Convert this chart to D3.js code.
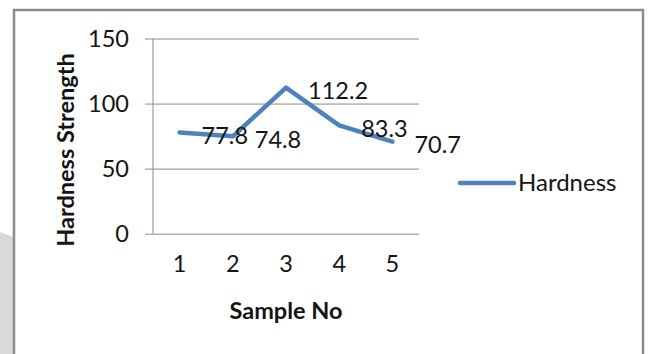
<!DOCTYPE html>
<html>
<head>
<meta charset="utf-8">
<script src="https://cdn.jsdelivr.net/npm/d3@7"></script>
<style>
  html, body { margin: 0; padding: 0; background: #fff; }
  svg { display: block; }
  text { font-family: Lato, "Noto Sans", sans-serif; fill: #141414; }
</style>
</head>
<body>
<svg id="chart" width="648" height="354"></svg>
<script>
// Hardness of each sample
const samples = ["1", "2", "3", "4", "5"];
const hardness = [77.8, 74.8, 112.2, 83.3, 70.7];
const yTicks = [0, 50, 100, 150];
const seriesName = "Hardness";
const xTitle = "Sample No";
const yTitle = "Hardness Strength";

const svg = d3.select("#chart");
const W = 648, H = 354;
const lineColor = "#4f81bd";
const gridColor = "#8a8a8a";

// page shadow at lower left and the chart frame
svg.append("path")
  .attr("d", "M0,232 L14,237 L14," + H + " L0," + H + " Z")
  .attr("fill", "#d9d9d9");
svg.append("rect")
  .attr("x", 14).attr("y", 10)
  .attr("width", 629).attr("height", H + 10)
  .attr("fill", "#fff")
  .attr("stroke", "#8c8c8c").attr("stroke-width", 2.5);

const plot = { left: 153, right: 419, top: 38.5, bottom: 233.7 };

const x = d3.scaleBand().domain(samples).range([plot.left, plot.right]);
const y = d3.scaleLinear().domain([0, 150]).range([plot.bottom, plot.top]);

// horizontal gridlines with outside tick stubs
const yAxis = d3.axisLeft(y).tickValues(yTicks)
  .tickSize(-(plot.right - plot.left)).tickPadding(18).tickFormat(d3.format("d"));
const gy = svg.append("g").attr("transform", `translate(${plot.left},0)`).call(yAxis);
gy.select(".domain").remove();
gy.selectAll(".tick line").attr("stroke", gridColor).attr("x1", -8);
gy.selectAll(".tick text")
  .attr("font-size", 23.5).attr("x", -24).attr("dy", "0.35em")
  .style("font-family", "Lato, sans-serif").attr("fill", "#141414");

// vertical axis line
svg.append("line")
  .attr("x1", plot.left).attr("x2", plot.left)
  .attr("y1", plot.top).attr("y2", plot.bottom)
  .attr("stroke", gridColor);

// category labels
const xAxis = d3.axisBottom(x).tickSize(0).tickPadding(22);
const gx = svg.append("g").attr("transform", `translate(0,${plot.bottom})`).call(xAxis);
gx.select(".domain").remove();
gx.selectAll(".tick text")
  .attr("font-size", 23.5)
  .style("font-family", "Lato, sans-serif").attr("fill", "#141414");

// series line
const cx = d => x(d) + x.bandwidth() / 2;
const line = d3.line()
  .x((d, i) => cx(samples[i]))
  .y(d => y(d));
svg.append("path")
  .datum(hardness)
  .attr("d", line)
  .attr("fill", "none")
  .attr("stroke", lineColor)
  .attr("stroke-width", 4.5)
  .attr("stroke-linejoin", "round")
  .attr("stroke-linecap", "round");

// value labels to the right of each point
svg.append("g").selectAll("text")
  .data(hardness)
  .join("text")
  .attr("x", (d, i) => cx(samples[i]) + 22)
  .attr("y", d => y(d) + 3)
  .attr("dy", "0.35em")
  .attr("font-size", 23.5)
  .text(d => d3.format(".1f")(d));

// axis titles
svg.append("text")
  .attr("transform", `translate(74,150) rotate(-90)`)
  .attr("text-anchor", "middle")
  .attr("font-size", 23.5).attr("font-weight", "bold")
  .text(yTitle);
svg.append("text")
  .attr("x", x("3") + x.bandwidth() / 2).attr("y", 319)
  .attr("text-anchor", "middle")
  .attr("font-size", 23.5).attr("font-weight", "bold")
  .text(xTitle);

// legend
const legend = svg.append("g").attr("transform", "translate(460,183)");
legend.append("line")
  .attr("x1", 0).attr("x2", 54).attr("y1", 0).attr("y2", 0)
  .attr("stroke", lineColor).attr("stroke-width", 4.5).attr("stroke-linecap", "round");
legend.append("text")
  .attr("x", 58).attr("y", 0).attr("dy", "0.35em")
  .attr("font-size", 24)
  .text(seriesName);
</script>
</body>
</html>
